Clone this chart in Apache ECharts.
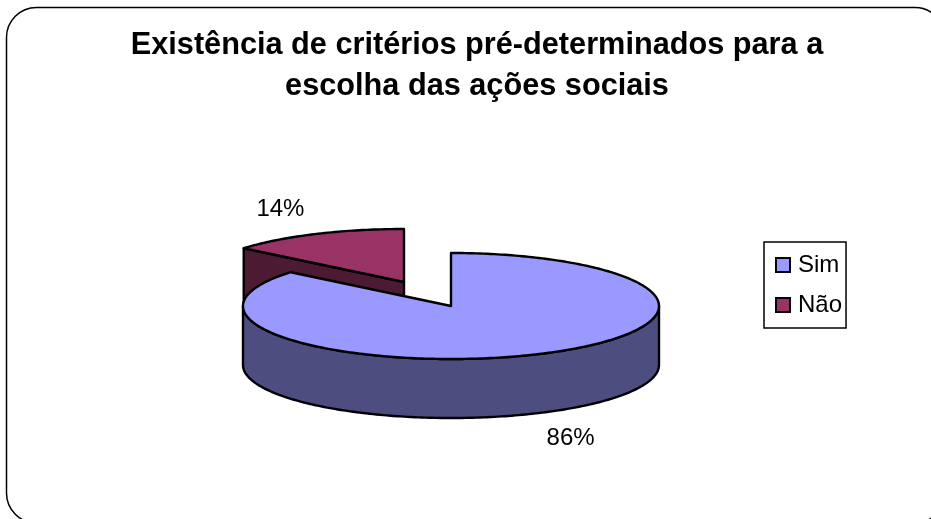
<!DOCTYPE html>
<html>
<head>
<meta charset="utf-8">
<style>html,body{margin:0;padding:0;background:#fff}#c{width:931px;height:519px}</style>
<script src="https://cdn.jsdelivr.net/npm/echarts@6/dist/echarts.min.js"></script>
</head>
<body>
<div id="c"></div>
<script>
const categories = ['Sim', 'Não'];
const values = [86, 14];
const titleLines = 'Existência de critérios pré-determinados para a\nescolha das ações sociais';

const topColors = ['#9999FF', '#993366'];
const wallColors = ['#4D4D80', '#4D1A33'];
const FONT = '"Liberation Sans", Arial, sans-serif';

// Ellipse geometry of the tilted disc; each slice has its own centre so the small one sits pulled out.
const RX = 208, RY = 53, DEPTH = 59;
const centres = [[451, 306], [404, 282]];
const labelOffsets = [[31, 25], [-35, -25]];

const total = values.reduce((a, b) => a + b, 0);

function ellipsePoint(c, deg, drop) {
  const t = deg * Math.PI / 180;
  return [c[0] + RX * Math.sin(t), c[1] - RY * Math.cos(t) + (drop || 0)];
}

function arc(c, from, to, drop) {
  const pts = [];
  for (let d = from; d < to; d += 1) pts.push(ellipsePoint(c, d, drop));
  pts.push(ellipsePoint(c, to, drop));
  return pts;
}

function renderSlice(index) {
  return function (params, api) {
    const before = values.slice(0, index).reduce((a, b) => a + b, 0);
    const start = before / total * 360;
    const end = start + api.value(0) / total * 360;
    const c = centres[index];
    const line = { stroke: '#000', lineWidth: 2.4, lineJoin: 'round' };
    const children = [];

    // Curved outer wall: only the part of the rim facing the viewer
    const a = Math.max(start, 90), b = Math.min(end, 270);
    if (b > a) {
      const upper = arc(c, a, b, 0);
      const lower = arc(c, a, b, DEPTH).reverse();
      children.push({
        type: 'polygon',
        shape: { points: upper.concat(lower) },
        style: Object.assign({ fill: wallColors[index] }, line)
      });
    }
    // Cut face along the slice's leading edge, when it turns toward the viewer
    if (start > 270) {
      const e = ellipsePoint(c, start, 0), e2 = ellipsePoint(c, start, DEPTH);
      children.push({
        type: 'polygon',
        shape: { points: [c, e, e2, [c[0], c[1] + DEPTH]] },
        style: Object.assign({ fill: wallColors[index] }, line)
      });
    }
    // Top face
    children.push({
      type: 'polygon',
      shape: { points: [c].concat(arc(c, start, end, 0)) },
      style: Object.assign({ fill: topColors[index] }, line)
    });
    // Percentage label, placed outside the rim at the slice's middle angle
    const mid = (start + end) / 2;
    const anchor = ellipsePoint(c, mid, Math.cos(mid * Math.PI / 180) < 0 ? DEPTH : 0);
    children.push({
      type: 'text',
      style: {
        x: anchor[0] + labelOffsets[index][0],
        y: anchor[1] + labelOffsets[index][1],
        text: Math.round(api.value(0) / total * 100) + '%',
        font: '24px ' + FONT,
        fill: '#000',
        align: 'center',
        verticalAlign: 'middle'
      }
    });
    return { type: 'group', children };
  };
}

const chart = echarts.init(document.getElementById('c'), null, { renderer: 'canvas' });
chart.setOption({
  animation: false,
  backgroundColor: '#fff',
  title: {
    text: titleLines,
    left: 472,
    top: 20,
    textAlign: 'center',
    textStyle: { fontFamily: FONT, fontSize: 30.7, fontWeight: 'bold', color: '#000', lineHeight: 41 }
  },
  legend: {
    left: 764,
    top: 242,
    orient: 'vertical',
    data: categories,
    icon: 'rect',
    itemWidth: 14,
    itemHeight: 14,
    itemGap: 16,
    padding: [11, 4, 11, 11],
    borderColor: '#000',
    borderWidth: 1.5,
    selectedMode: false,
    itemStyle: { borderColor: '#000', borderWidth: 2 },
    textStyle: { fontFamily: FONT, fontSize: 24, color: '#000', padding: [0, 0, 0, 3] }
  },
  graphic: [{
    type: 'rect',
    z: -1,
    shape: { x: 6.5, y: 7.5, width: 938.5, height: 515.5, r: 30 },
    style: { fill: 'none', stroke: '#000', lineWidth: 1.5 }
  }],
  // The small slice is listed first so the large one overlaps it
  series: [1, 0].map(i => ({
    type: 'custom',
    name: categories[i],
    coordinateSystem: 'none',
    z: 2 + (1 - i),
    itemStyle: { color: topColors[i] },
    data: [[values[i]]],
    renderItem: renderSlice(i)
  }))
});
</script>
</body>
</html>
